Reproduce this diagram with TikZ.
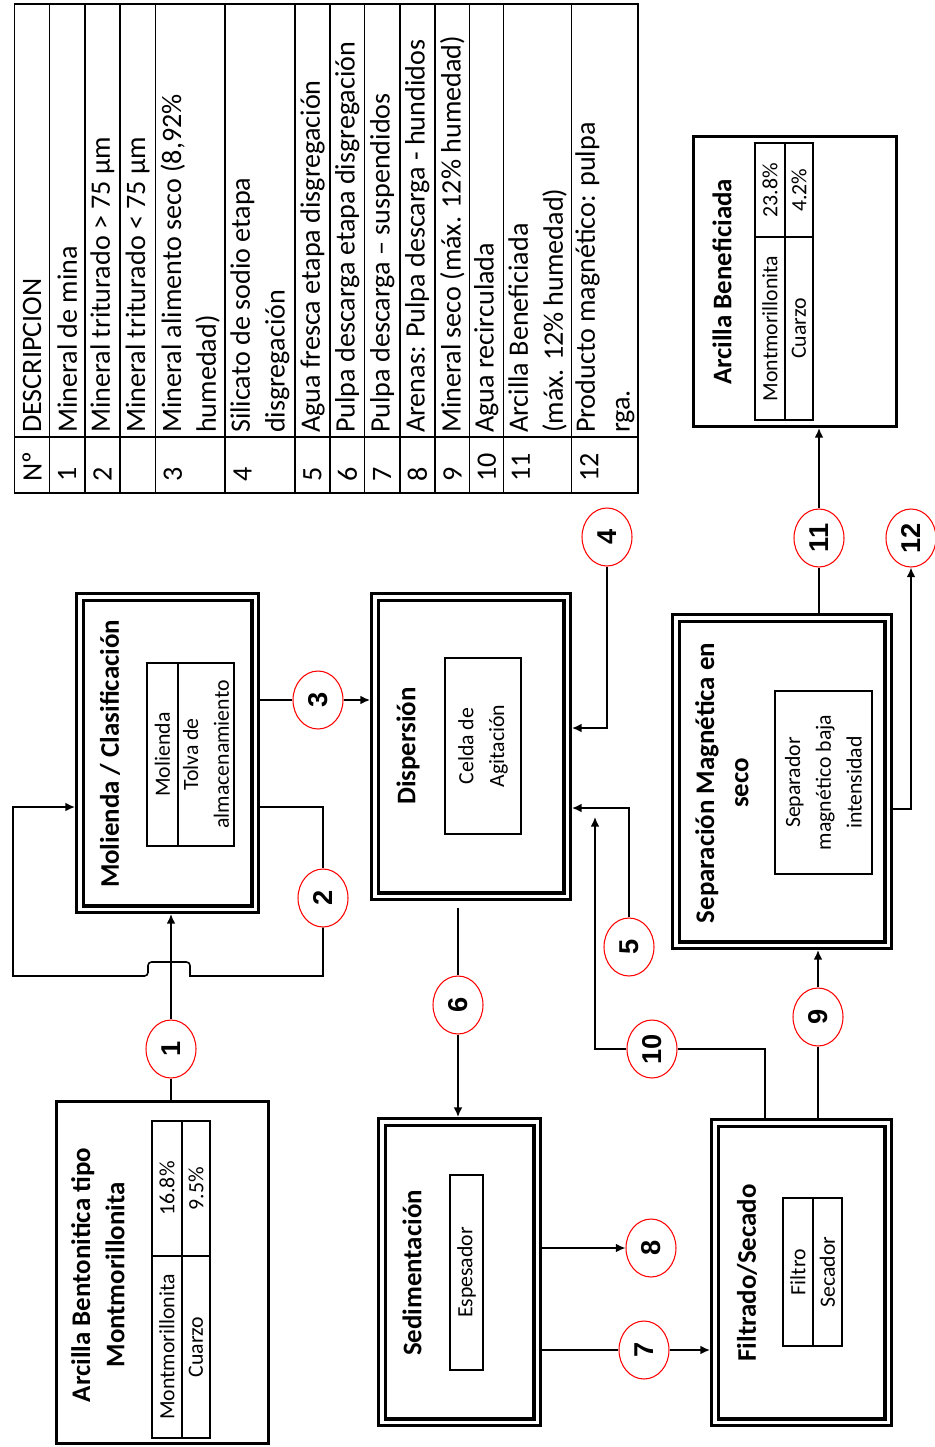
\documentclass[tikz,border=0pt]{standalone}
\usepackage{fontspec}
\setmainfont{Carlito}
\newfontfamily\numfont{Liberation Sans}
\usetikzlibrary{arrows.meta,shapes.geometric,fit,calc}

\begin{document}
\begin{tikzpicture}[
        x=0.02cm, y=-0.02cm,
        >={Latex[length=5.5pt,width=5pt]}, % 箭头样式
        flow/.style={line width=0.9pt},
        procbox/.style={draw,double,line width=1.9pt,double distance=1.8pt,inner sep=-2.8pt,outer sep=2.8pt},
        endbox/.style={draw,line width=1.8pt,inner sep=-0.9pt,outer sep=0.9pt},
        boxtitle/.style={rotate=90,align=center,inner sep=0pt,font=\bfseries\fontsize{15.3}{19.5}\selectfont},
        subcell/.style={draw,line width=0.8pt,rotate=90,align=center,inner sep=0pt,font=\fontsize{12.4}{17.5}\selectfont},
        flowtag/.style={draw=red,fill=white,ellipse,line width=0.6pt,rotate=90,minimum width=1.16cm,minimum height=1cm,inner sep=0pt,font=\numfont\bfseries\fontsize{15.5}{15.5}\selectfont},
        tabline/.style={line width=0.8pt},
        tabtext/.style={rotate=90,anchor=west,align=left,inner sep=1pt,font=\fontsize{16}{19.8}\selectfont}
    ]
        \useasboundingbox (0,0) rectangle (934,1447);

        % 表格
        \draw[tabline] (14.5,4) rectangle (638,493);
        \draw[tabline] (14.5,437) -- (638,437);
        \foreach \xx in {49.7,84.9,120.1,155.4,225,295,330,364.6,399.8,435,469.4,503.4,571.7}
            \draw[tabline] (\xx,4) -- (\xx,493);
        \foreach \xl/\xr/\num/\desc [count=\i] in {
            14.5/49.7/Nº/DESCRIPCION,
            49.7/84.9/1/{Mineral de mina},
            84.9/120.1/2/{Mineral triturado > 75 µm},
            120.1/155.4/{}/{Mineral triturado < 75 µm},
            155.4/225/3/{Mineral alimento seco (8,92\%\\humedad)},
            225/295/4/{Silicato de sodio etapa\\disgregación},
            295/330/5/{Agua fresca etapa disgregación},
            330/364.6/6/{Pulpa descarga etapa disgregación},
            364.6/399.8/7/{Pulpa descarga – suspendidos},
            399.8/435/8/{Arenas: Pulpa descarga - hundidos},
            435/469.4/9/{Mineral seco (máx. 12\% humedad)},
            469.4/503.4/10/{Agua recirculada},
            503.4/571.7/11/{Arcilla Beneficiada\\(máx. 12\% humedad)},
            571.7/638/12/{Producto magnético: pulpa\\rga.}}{
            \node[tabtext] (num\i) at (\xl+17.5,484) {\num};
            \node[tabtext] (desc\i) at ({(\xl+\xr)/2},435) {\desc};
        }

        % 定义节点
        \node[endbox, fit={(55,1100) (270,1445)}] (bentonita) {};
        \node[boxtitle] (bentT) at (98,1275) {Arcilla Bentonitica tipo\\Montmorillonita};
        \node[subcell, minimum width=3.64cm, minimum height=0.6cm] (bentA) at (167,1347) {Montmorillonita};
        \node[subcell, minimum width=2.7cm, minimum height=0.6cm] (bentB) at (167,1188.5) {16.8\%};
        \node[subcell, minimum width=3.64cm, minimum height=0.56cm] (bentC) at (196,1347) {Cuarzo};
        \node[subcell, minimum width=2.7cm, minimum height=0.56cm] (bentD) at (196,1188.5) {9.5\%};

        \node[procbox, fit={(75,592) (260,914)}] (molienda) {};
        \node[boxtitle] (molT) at (110,754) {Molienda / Clasificación};
        \node[subcell, minimum width=3.66cm, minimum height=0.62cm] (molA) at (162.5,754.5) {Molienda};
        \node[subcell, minimum width=3.66cm, minimum height=1.12cm] (molB) at (206,754.5) {Tolva de\\almacenamiento};

        \node[procbox, fit={(370,592) (572,901)}] (dispersion) {};
        \node[boxtitle] (disT) at (408,746) {Dispersión};
        \node[subcell, minimum width=3.52cm, minimum height=1.52cm] (disA) at (483,746) {Celda de\\Agitación};

        \node[procbox, fit={(377,1117) (542,1427)}] (sedimentacion) {};
        \node[boxtitle] (sedT) at (412,1273) {Sedimentación};
        \node[subcell, minimum width=3.9cm, minimum height=0.66cm] (sedA) at (466.5,1272.5) {Espesador};

        \node[procbox, fit={(710,1118) (893,1427)}] (filtrado) {};
        \node[boxtitle] (filT) at (747,1273) {Filtrado/Secado};
        \node[subcell, minimum width=2.96cm, minimum height=0.6cm] (filA) at (798,1272) {Filtro};
        \node[subcell, minimum width=2.96cm, minimum height=0.58cm] (filB) at (827.5,1272) {Secador};

        \node[procbox, fit={(671,613) (893,950)}] (separacion) {};
        \node[boxtitle] (sepT) at (722,783) {Separación Magnética en\\seco};
        \node[subcell, minimum width=3.66cm, minimum height=1.94cm] (sepA) at (823.5,782.5) {Separador\\magnético baja\\intensidad};

        \node[endbox, fit={(692,135) (898,428)}] (beneficiada) {};
        \node[boxtitle] (benT) at (722,282) {Arcilla Beneficiada};
        \node[subcell, minimum width=3.66cm, minimum height=0.6cm] (benA) at (770,328.5) {Montmorillonita};
        \node[subcell, minimum width=1.88cm, minimum height=0.6cm] (benB) at (770,190) {23.8\%};
        \node[subcell, minimum width=3.66cm, minimum height=0.56cm] (benC) at (799,328.5) {Cuarzo};
        \node[subcell, minimum width=1.88cm, minimum height=0.56cm] (benD) at (799,190) {4.2\%};

        % 流股编号
        \foreach \n/\cx/\cy in {1/171/1049, 2/323/898, 3/318/700, 4/607/537, 5/629/947, 6/458/1005,
            7/644/1350, 8/651/1248, 9/818/1017, 10/652/1049, 11/819/538, 12/911/538}
            \node[flowtag] (c\n) at (\cx,\cy) {\n};
        \coordinate (r10) at (595,817);
        \coordinate (s6) at (458,908);

        % 连接节点
        \draw[flow] (c1 |- bentonita.north) -- (c1);
        \draw[flow,->] (c1) -- (c1 |- molienda.south);
        \draw[flow] (molienda.east |- 0,807) -| (c2);
        \draw[flow,->] (c2) |- (190,976) [rounded corners=2pt] -- (190,962) -- (148,962) -- (148,976)
            [sharp corners] -| (13,807) -- (molienda.west |- 0,807);
        \draw[flow] (molienda.east |- c3) -- (c3);
        \draw[flow,->] (c3) -- (dispersion.west |- c3);
        \draw[flow,->] (c4) |- (dispersion.east |- 0,728);
        \draw[flow,->] (c5) |- (dispersion.east |- 0,808);
        \draw[flow,->] (c10) -| (r10);
        \draw[flow] (filtrado.north -| 765,0) |- (c10);
        \draw[flow] (s6) -- (c6);
        \draw[flow,->] (c6) -- (c6 |- sedimentacion.north);
        \draw[flow,->] (sedimentacion.east |- c8) -- (c8);
        \draw[flow] (sedimentacion.east |- c7) -- (c7);
        \draw[flow,->] (c7) -- (filtrado.west |- c7);
        \draw[flow] (c9 |- filtrado.north) -- (c9);
        \draw[flow,->] (c9) -- (c9 |- separacion.south);
        \draw[flow] (c11 |- separacion.north) -- (c11);
        \draw[flow,->] (c11) -- (c11 |- beneficiada.south);
        \draw[flow,->] (separacion.east |- 0,809) -| (c12);

    \end{tikzpicture}
\end{document}
